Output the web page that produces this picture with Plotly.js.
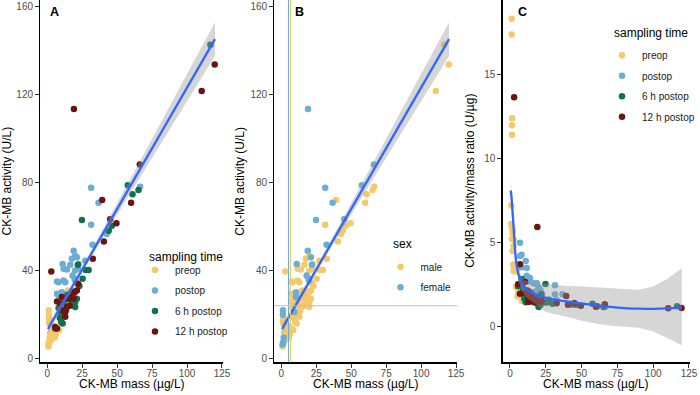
<!DOCTYPE html>
<html>
<head>
<meta charset="utf-8">
<script src="https://cdn.plot.ly/plotly-3.0.1.min.js"></script>
<style>
  html, body { margin: 0; padding: 0; background: #ffffff; }
  #chart { width: 700px; height: 395px; }
</style>
</head>
<body>
<div id="chart"></div>
<script>
// CK-MB mass (µg/L), CK-MB activity (U/L) and sex of each sample, grouped by sampling time
const preopMass =      [1.2, 1.15, 1.45, 1.4, 1.4, 0.9, 1.2, 1.4, 1.8, 2.2, 2.6, 3.0, 2.0, 2.5, 3.2, 1.7, 0.9, 4.2, 5.3, 6.5, 8.5, 4.5, 3.5, 2.8, 5.8, 15.0, 3.8, 6.0];
const preopActivity =  [22.0, 20.0, 18.0, 16.8, 16.0, 6.5, 7.1, 7.3, 8.1, 8.1, 8.6, 10.5, 11.5, 12.0, 11.2, 9.5, 5.5, 10.0, 9.6, 13.5, 13.0, 15.0, 13.0, 14.5, 12.0, 31.0, 12.5, 11.0];
const preopSex =       ['female', 'female', 'male', 'male', 'male', 'female', 'male', 'female', 'male', 'male', 'male', 'male', 'male', 'male', 'male', 'female', 'male', 'male', 'male', 'male', 'male', 'male', 'male', 'male', 'male', 'male', 'male', 'male'];

const postopMass =     [31.4, 36.7, 66.4, 31.4, 42.6, 32.4, 18.9, 20.0, 21.2, 17.6, 27.2, 11.0, 22.4, 16.5, 11.7, 14.0, 20.0, 22.0, 8.1, 11.7, 12.9, 18.1, 19.5, 20.0, 10.5, 7.0, 8.1, 11.7, 12.9, 7.0];
const postopActivity = [77.6, 70.8, 78.0, 60.8, 56.6, 51.7, 49.0, 46.7, 46.0, 45.3, 44.5, 43.0, 43.0, 42.6, 40.8, 40.5, 40.0, 40.8, 34.7, 35.5, 34.7, 37.8, 36.3, 35.5, 30.2, 29.5, 28.7, 23.5, 22.7, 35.0];
const postopSex =      ['female', 'female', 'male', 'male', 'male', 'female', 'female', 'male', 'female', 'male', 'male', 'female', 'male', 'male', 'male', 'male', 'male', 'male', 'male', 'male', 'male', 'female', 'female', 'female', 'female', 'male', 'male', 'male', 'male', 'male'];

const h6Mass =         [116.7, 57.6, 61.0, 65.3, 24.8, 46.2, 44.0, 29.6, 27.5, 21.9, 25.3, 21.2, 20.0, 17.6, 16.5, 8.1, 9.3, 10.5, 10.0, 11.0, 5.7, 20.0, 14.5, 18.0, 12.0, 9.0, 13.5, 23.0];
const h6Activity =     [142.5, 78.7, 74.6, 76.5, 62.9, 60.3, 58.0, 40.3, 40.3, 42.6, 36.3, 27.2, 25.7, 25.0, 24.2, 23.0, 21.2, 19.7, 16.7, 16.0, 13.7, 23.5, 29.0, 30.5, 26.0, 18.5, 22.0, 33.0];
const h6Sex =          ['male', 'female', 'male', 'male', 'female', 'male', 'male', 'male', 'male', 'female', 'male', 'male', 'male', 'male', 'male', 'male', 'female', 'male', 'male', 'male', 'male', 'male', 'male', 'male', 'male', 'male', 'male', 'male'];

const h12Mass =        [19.1, 119.8, 110.5, 66.2, 39.3, 60.0, 45.0, 49.5, 40.5, 32.6, 2.9, 21.2, 18.9, 17.6, 15.3, 12.9, 10.5, 7.0, 12.9, 12.9, 5.7, 7.0, 16.0, 22.0, 14.0, 19.5, 11.0, 9.5];
const h12Activity =    [113.3, 133.5, 121.5, 88.1, 72.0, 70.8, 63.3, 61.5, 53.2, 45.3, 39.6, 31.0, 27.2, 28.0, 27.2, 27.2, 28.0, 26.0, 21.2, 19.0, 14.4, 13.7, 24.0, 34.0, 23.5, 30.0, 22.0, 25.0];
const h12Sex =         ['female', 'male', 'male', 'female', 'male', 'male', 'female', 'male', 'male', 'male', 'male', 'male', 'male', 'male', 'male', 'male', 'female', 'male', 'male', 'male', 'male', 'male', 'male', 'male', 'male', 'male', 'male', 'male'];

const timeLabels = ['preop', 'postop', '6 h postop', '12 h postop'];
const sexLabels = ['male', 'female'];

// Linear fit of activity on mass with its 95% confidence band
const linFitMass =     [0.5, 10, 20, 30, 40, 50, 60, 70, 80, 90, 100, 110, 120];
const linFitActivity = [13.5, 24.0, 35.0, 46.0, 57.0, 68.0, 79.0, 90.0, 101.0, 112.0, 123.0, 134.0, 145.0];
const linFitLower =    [11.4, 22.4, 33.7, 44.6, 55.1, 65.5, 75.8, 86.1, 96.3, 106.6, 116.8, 127.1, 137.3];
const linFitUpper =    [15.6, 25.6, 36.3, 47.4, 58.9, 70.5, 82.2, 93.9, 105.7, 117.4, 129.2, 140.9, 152.7];

// Smoothed activity/mass ratio with its confidence band
const ratioFitMass =   [0.5, 1.0, 1.5, 2, 3, 4, 5, 6, 8, 10, 12, 15, 20, 25, 30, 40, 50, 60, 70, 80, 90, 100, 110, 120];
const ratioFitValue =  [8.1, 7.8, 7.2, 6.6, 5.3, 4.1, 3.5, 3.1, 2.6, 2.35, 2.2, 2.05, 1.85, 1.72, 1.63, 1.5, 1.38, 1.27, 1.18, 1.11, 1.07, 1.06, 1.09, 1.17];
const ratioFitLower =  [7.4, 7.2, 6.7, 6.1, 4.9, 3.7, 3.1, 2.7, 2.2, 1.9, 1.7, 1.5, 1.2, 0.88, 0.76, 0.58, 0.36, 0.19, 0.06, 0.0, -0.06, -0.28, -0.67, -1.1];
const ratioFitUpper =  [8.8, 8.4, 7.7, 7.1, 5.7, 4.5, 3.9, 3.5, 3.0, 2.8, 2.7, 2.6, 2.5, 2.56, 2.5, 2.42, 2.4, 2.35, 2.3, 2.22, 2.2, 2.4, 2.85, 3.48];

// Upper reference limits: CK-MB mass for women and men, CK-MB activity
const femaleMassLimit = 5.2;
const maleMassLimit = 6.6;
const activityLimit = 24;

const massTicks = [0, 25, 50, 75, 100, 125];
const activityTicks = [0, 40, 80, 120, 160];
const ratioTicks = [0, 5, 10, 15];

// ---------------------------------------------------------------------------
const timeColors = ['#F3C96C', '#6AAED6', '#12704F', '#6B1510'];
const sexColors = { male: '#F3C96C', female: '#6AAED6' };
const FONT = 'Liberation Sans, Arial, Helvetica, sans-serif';

const groups = [
  { mass: preopMass, activity: preopActivity, sex: preopSex },
  { mass: postopMass, activity: postopActivity, sex: postopSex },
  { mass: h6Mass, activity: h6Activity, sex: h6Sex },
  { mass: h12Mass, activity: h12Activity, sex: h12Sex }
];

function points(x, y, name, color, xa, ya, legend) {
  return {
    type: 'scatter', mode: 'markers', x: x, y: y, name: name,
    xaxis: xa, yaxis: ya, legend: legend, legendgroup: legend + name,
    marker: { color: color, size: 6.5, line: { width: 0 } },
    hoverinfo: 'skip', cliponaxis: false
  };
}
function band(x, lo, hi, xa, ya) {
  return {
    type: 'scatter', mode: 'lines', x: x.concat(x.slice().reverse()),
    y: hi.concat(lo.slice().reverse()), fill: 'toself',
    fillcolor: 'rgba(153,153,153,0.4)', line: { width: 0 },
    xaxis: xa, yaxis: ya, showlegend: false, hoverinfo: 'skip'
  };
}
function fitLine(x, y, xa, ya, shape) {
  return {
    type: 'scatter', mode: 'lines', x: x, y: y,
    line: { color: '#3366FF', width: 2.3, shape: shape, smoothing: 0.6 },
    xaxis: xa, yaxis: ya, showlegend: false, hoverinfo: 'skip'
  };
}

const traces = [];

// Panel A: activity vs mass, coloured by sampling time
groups.forEach((g, i) => traces.push(points(g.mass, g.activity, timeLabels[i], timeColors[i], 'x', 'y', 'legend')));
traces.push(band(linFitMass, linFitLower, linFitUpper, 'x', 'y'));
traces.push(fitLine(linFitMass, linFitActivity, 'x', 'y', 'linear'));

// Panel B: activity vs mass, coloured by sex
sexLabels.forEach(s => {
  const xs = [], ys = [];
  groups.forEach(g => g.sex.forEach((v, k) => { if (v === s) { xs.push(g.mass[k]); ys.push(g.activity[k]); } }));
  traces.push(points(xs, ys, s, sexColors[s], 'x2', 'y2', 'legend2'));
});
traces.push(band(linFitMass, linFitLower, linFitUpper, 'x2', 'y2'));
traces.push(fitLine(linFitMass, linFitActivity, 'x2', 'y2', 'linear'));

// Panel C: activity/mass ratio vs mass, coloured by sampling time
groups.forEach((g, i) => {
  const ratio = g.activity.map((a, k) => a / g.mass[k]);
  traces.push(points(g.mass, ratio, timeLabels[i], timeColors[i], 'x3', 'y3', 'legend3'));
});
traces.push(band(ratioFitMass, ratioFitLower, ratioFitUpper, 'x3', 'y3'));
traces.push(fitLine(ratioFitMass, ratioFitValue, 'x3', 'y3', 'spline'));

// ---------------------------------------------------------------------------
const W = 700, H = 395;
const px = v => v / W;
const py = v => 1 - v / H;

function axis(domain, range, ticks, anchor, standoff) {
  return {
    domain: domain, range: range, tickvals: ticks, ticktext: ticks.map(String),
    anchor: anchor, showgrid: false, zeroline: false,
    showline: true, linecolor: '#000000', linewidth: 1.2,
    ticks: 'outside', ticklen: 4, tickwidth: 1, tickcolor: '#333333',
    ticklabelstandoff: standoff || 0,
    tickfont: { family: FONT, size: 10, color: '#4D4D4D' }, fixedrange: true
  };
}
const yDomain = [py(362.3), 1];

function legendBox(left, top) {
  return {
    x: px(left), y: py(top), xanchor: 'left', yanchor: 'top',
    bgcolor: 'rgba(0,0,0,0)', borderwidth: 0,
    traceorder: 'grouped', tracegroupgap: 1.5,
    font: { family: FONT, size: 10, color: '#1A1A1A' }
  };
}

function text(t, x, y, opts) {
  return Object.assign({
    text: t, xref: 'paper', yref: 'paper', x: px(x), y: py(y),
    showarrow: false, xanchor: 'center', yanchor: 'middle',
    font: { family: FONT, size: 12, color: '#000000' }
  }, opts || {});
}

const annotations = [
  text('CK-MB mass (µg/L)', 132, 384),
  text('CK-MB mass (µg/L)', 366.4, 384),
  text('CK-MB mass (µg/L)', 597.3, 384),
  text('CK-MB activity (U/L)', 7.5, 181, { textangle: -90 }),
  text('CK-MB activity (U/L)', 240, 181, { textangle: -90 }),
  text('CK-MB activity/mass ratio (U/µg)', 470.5, 181, { textangle: -90 }),
  text('<b>A</b>', 54.5, 12.5, { font: { family: FONT, size: 12.5, color: '#000000' } }),
  text('<b>B</b>', 299.5, 12.5, { font: { family: FONT, size: 12.5, color: '#000000' } }),
  text('<b>C</b>', 523, 12, { font: { family: FONT, size: 12.5, color: '#000000' } }),
  text('sampling time', 147, 256.7, { xanchor: 'left' }),
  text('sex', 391.7, 244.3, { xanchor: 'left' }),
  text('sampling time', 613, 33, { xanchor: 'left' })
];

const shapes = [
  { type: 'line', xref: 'x2', yref: 'y2 domain', x0: femaleMassLimit, x1: femaleMassLimit, y0: 0, y1: 1,
    line: { color: sexColors.female, width: 1.1 }, layer: 'above' },
  { type: 'line', xref: 'x2', yref: 'y2 domain', x0: maleMassLimit, x1: maleMassLimit, y0: 0, y1: 1,
    line: { color: sexColors.male, width: 1.1 }, layer: 'above' },
  { type: 'line', xref: 'x2 domain', yref: 'y2', x0: 0, x1: 1, y0: activityLimit, y1: activityLimit,
    line: { color: '#BEBEBE', width: 1.1 }, layer: 'above' }
];

const layout = {
  width: W, height: H,
  margin: { l: 0, r: 0, t: 0, b: 0, pad: 0 },
  paper_bgcolor: '#ffffff', plot_bgcolor: '#ffffff',
  font: { family: FONT, color: '#000000' },
  showlegend: true,
  xaxis:  axis([px(40.3), px(223.7)], [-5, 126], massTicks, 'y', -3),
  yaxis:  axis(yDomain, [-1.63, 162.75], activityTicks, 'x'),
  xaxis2: axis([px(274.7), px(458.1)], [-5, 126], massTicks, 'y2', -3),
  yaxis2: axis(yDomain, [-1.63, 162.75], activityTicks, 'x2'),
  xaxis3: axis([px(503.3), px(691.4)], [-5.16, 126], massTicks, 'y3', -3),
  yaxis3: axis(yDomain, [-2.12, 19.45], ratioTicks, 'x3'),
  legend:  legendBox(135, 255.5),
  legend2: legendBox(380.5, 252.2),
  legend3: legendBox(603, 40.8),
  annotations: annotations,
  shapes: shapes
};

Plotly.newPlot('chart', traces, layout, { staticPlot: true, displayModeBar: false });
</script>
</body>
</html>
